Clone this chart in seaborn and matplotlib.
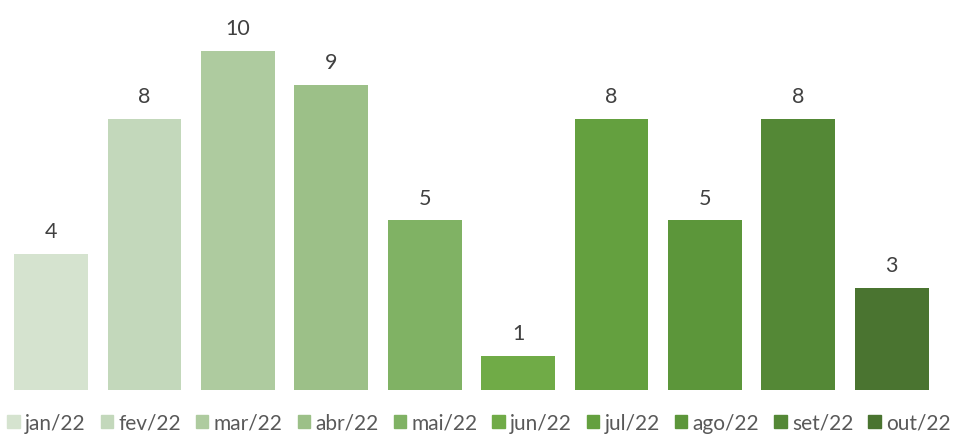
import seaborn as sns
import matplotlib.pyplot as plt
import pandas as pd

months = ['jan/22', 'fev/22', 'mar/22', 'abr/22', 'mai/22', 'jun/22', 'jul/22', 'ago/22', 'set/22', 'out/22']
values = [4, 8, 10, 9, 5, 1, 8, 5, 8, 3]
colors = ['#d5e3cf', '#c3d8bb', '#aecb9f', '#9cc088', '#80b264',
          '#70ab47', '#64a03f', '#5c963a', '#548836', '#4a7430']

sns.set_style('white')
plt.rcParams['font.family'] = ['Lato', 'DejaVu Sans']

df = pd.DataFrame({'month': months, 'value': values})

fig = plt.figure(figsize=(9.58, 4.35), dpi=100)
ax = fig.add_axes([0.0045, 0.101, 0.975, 0.899])

sns.barplot(data=df, x='month', y='value', hue='month', palette=colors,
            width=0.79, dodge=False, legend=False, ax=ax, saturation=1, linewidth=0)

for i, v in enumerate(values):
    ax.text(i, v + 0.5, str(v), ha='center', va='baseline', fontsize=15.5, color='#404040')

ax.set_xlim(-0.5, 9.5)
ax.set_ylim(0, 11.53)
ax.axis('off')

handles = [plt.Rectangle((0, 0), 1, 1, color=c) for c in colors]
fig.legend(handles, months, loc='center', ncol=10, frameon=False,
           bbox_to_anchor=(0.5, 0.026), fontsize=15, handlelength=0.6, handleheight=0.6,
           handletextpad=0.25, columnspacing=0.72, borderpad=0.1, labelcolor='#595959')

fig.savefig('out.png', dpi=100)
